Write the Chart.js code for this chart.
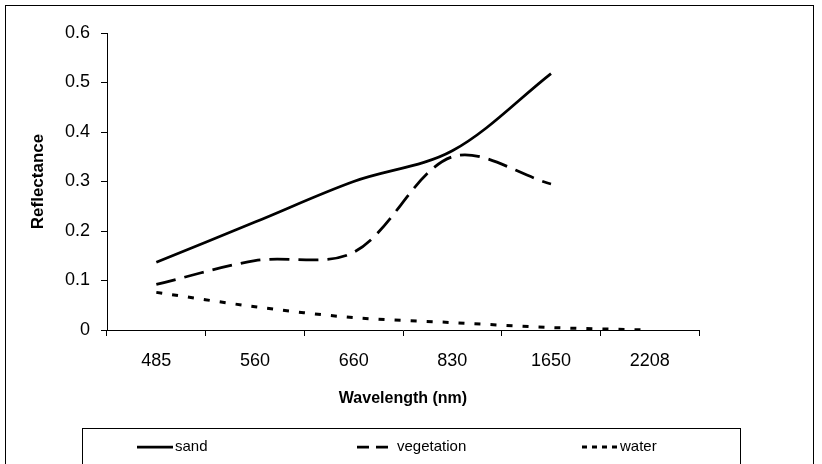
<!DOCTYPE html>
<html lang="en">
<head>
<meta charset="UTF-8">
<title>Reflectance by wavelength</title>
<script src="https://cdn.jsdelivr.net/npm/chart.js"></script>
<style>
    html, body { margin: 0; padding: 0; background: #fff; }
    #wrap { width: 822px; height: 464px; }
</style>
</head>
<body>
<div id="wrap"><canvas id="reflChart" width="822" height="464"></canvas></div>
<script>
    // values
    const wavelengths = ['485', '560', '660', '830', '1650', '2208'];
    const sand = [0.137, 0.218, 0.300, 0.362, 0.518, null];
    const vegetation = [0.092, 0.140, 0.157, 0.350, 0.295, null];
    const water = [0.076, 0.047, 0.025, 0.015, 0.005, 0.0];

    const FONT = '"Liberation Sans", Arial, sans-serif';

    // outer frame, white background
    const framePlugin = {
        id: 'frame',
        beforeDraw(chart) {
            const ctx = chart.ctx;
            ctx.save();
            ctx.fillStyle = '#fff';
            ctx.fillRect(0, 0, chart.width, chart.height);
            ctx.strokeStyle = '#000';
            ctx.lineWidth = 1;
            ctx.strokeRect(5.5, 5.5, 808, 480);
            ctx.restore();
        }
    };

    // Excel style boxed legend under the axis title
    const boxLegend = {
        id: 'boxLegend',
        afterDraw(chart) {
            const ctx = chart.ctx;
            const lineX = [137, 357, 582];
            const textX = [175, 397, 620];
            const y = 447;
            ctx.save();
            ctx.strokeStyle = '#000';
            ctx.lineWidth = 1;
            ctx.strokeRect(82.5, 428.5, 658, 60);
            chart.data.datasets.forEach(function(ds, i) {
                ctx.beginPath();
                ctx.setLineDash(ds.legendDash);
                ctx.lineWidth = ds.borderWidth;
                ctx.strokeStyle = ds.borderColor;
                ctx.moveTo(lineX[i], y);
                ctx.lineTo(lineX[i] + 36, y);
                ctx.stroke();
                ctx.setLineDash([]);
                ctx.fillStyle = '#000';
                ctx.font = '15px ' + FONT;
                ctx.textBaseline = 'middle';
                ctx.fillText(ds.label, textX[i], y);
            });
            ctx.restore();
        }
    };

    const ctx = document.getElementById('reflChart');
    const chart = new Chart(ctx, {
        type: 'line',
        data: {
            labels: wavelengths,
            datasets: [
                {
                    label: 'sand',
                    data: sand,
                    borderColor: '#000',
                    borderWidth: 2.75,
                    borderDash: [],
                    legendDash: [],
                    pointRadius: 0,
                    tension: 0.33,
                    fill: false
                },
                {
                    label: 'vegetation',
                    data: vegetation,
                    borderColor: '#000',
                    borderWidth: 2.75,
                    borderDash: [20, 9],
                    legendDash: [12, 7],
                    pointRadius: 0,
                    tension: 0.33,
                    fill: false
                },
                {
                    label: 'water',
                    data: water,
                    borderColor: '#000',
                    borderWidth: 3,
                    borderDash: [6, 10],
                    legendDash: [5, 5],
                    pointRadius: 0,
                    tension: 0.33,
                    fill: false
                }
            ]
        },
        options: {
            responsive: false,
            animation: false,
            devicePixelRatio: 1,
            layout: { padding: { left: 25, right: 123, top: 33, bottom: 34 } },
            plugins: {
                legend: { display: false },
                tooltip: { enabled: false }
            },
            scales: {
                x: {
                    type: 'category',
                    offset: true,
                    grid: { offset: true, drawOnChartArea: false, drawTicks: true, tickLength: 6, color: '#000' },
                    border: { display: true, color: '#000' },
                    ticks: { color: '#000', font: { family: FONT, size: 18 }, padding: 14, maxRotation: 0, autoSkip: false },
                    title: {
                        display: true,
                        text: 'Wavelength (nm)',
                        color: '#000',
                        font: { family: FONT, size: 16, weight: 'bold' },
                        padding: { top: 0, bottom: 22 }
                    },
                    afterFit: function(s) { s.height = 100; }
                },
                y: {
                    min: 0,
                    max: 0.6,
                    grid: { drawOnChartArea: false, drawTicks: true, tickLength: 6, color: '#000' },
                    border: { display: true, color: '#000' },
                    ticks: { stepSize: 0.1, color: '#000', font: { family: FONT, size: 18 }, padding: 11 },
                    title: {
                        display: true,
                        text: 'Reflectance',
                        color: '#000',
                        font: { family: FONT, size: 17, weight: 'bold' },
                        padding: { top: 3, bottom: 0 }
                    },
                    afterFit: function(s) { s.width = 82; }
                }
            }
        },
        plugins: [framePlugin, boxLegend]
    });
</script>
</body>
</html>
